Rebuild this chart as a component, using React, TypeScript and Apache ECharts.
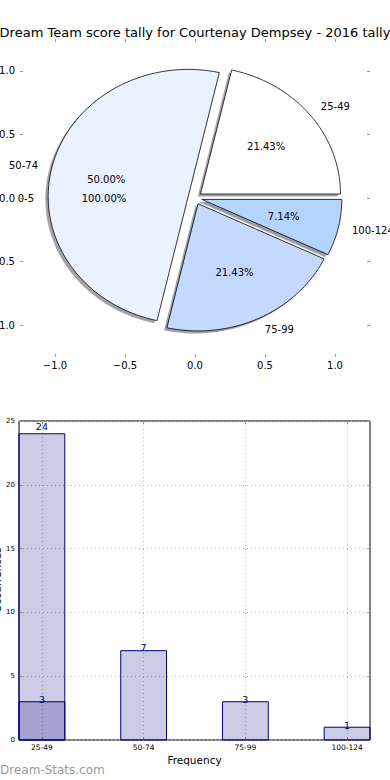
import React, { useEffect, useRef } from "react";
import * as echarts from "echarts";

const chartTitle = "Dream Team score tally for Courtenay Dempsey - 2016 tally";

const pieLabels = ["25-49", "50-74", "75-99", "100-124"];
const pieValues = [3, 7, 3, 1];
const pieColors = ["#ffffff", "#ebf2ff", "#c5d8ff", "#b3d4ff"];
const secondPieLabels = ["0-5"];
const secondPieValues = [1];
const pieTickValues = [-1, -0.5, 0, 0.5, 1];

const barCategories = ["25-49", "50-74", "75-99", "100-124"];
const barValues = [24, 7, 3, 1];
const overlayValues = [3];
const barXAxisName = "Frequency";
const barYAxisName = "Occurrences";
const watermark = "Dream-Stats.com";

const FONT = "'DejaVu Sans', 'Noto Sans', sans-serif";
const EXPLODE = 0.05;
const BAR_W = 0.45;
const NAVY = "#000080";

function wedges(values: number[]) {
  const total = values.reduce((a, b) => a + b, 0);
  let acc = 0;
  return values.map((v, i) => {
    const s = (acc / total) * 360;
    acc += v;
    const e = (acc / total) * 360;
    return [s, e, i];
  });
}

function shade(hex: string) {
  const n = parseInt(hex.slice(1), 16);
  const r = Math.round(((n >> 16) & 255) * 0.3);
  const g = Math.round(((n >> 8) & 255) * 0.3);
  const b = Math.round((n & 255) * 0.3);
  return `rgb(${r},${g},${b})`;
}

function pieRender(labels: string[], colors: string[], drawWedge: boolean) {
  return (params: any, api: any) => {
    const s = api.value(0) as number;
    const e = api.value(1) as number;
    const i = api.value(2) as number;
    const rad = Math.PI / 180;
    const mid = ((s + e) / 2) * rad;
    const c = Math.cos(mid);
    const sn = Math.sin(mid);
    const cx = EXPLODE * c;
    const cy = EXPLODE * sn;
    const n = Math.max(2, Math.ceil(e - s));
    const ring: number[][] = [[cx, cy]];
    for (let k = 0; k <= n; k++) {
      const t = (s + ((e - s) * k) / n) * rad;
      ring.push([cx + Math.cos(t), cy + Math.sin(t)]);
    }
    const children: any[] = [];
    if (drawWedge) {
      children.push({
        type: "polygon",
        z2: 1,
        silent: true,
        shape: { points: ring.map((p) => api.coord([p[0] - 0.02, p[1] - 0.02])) },
        style: { fill: shade(colors[i]), opacity: 0.5 },
      });
      children.push({
        type: "polygon",
        z2: 10,
        shape: { points: ring.map((p) => api.coord(p)) },
        style: { fill: colors[i], stroke: "#000", lineWidth: 0.8, lineJoin: "miter" },
      });
    }
    const lp = api.coord([cx + 1.1 * c, cy + 1.1 * sn]);
    const al = c > 0 ? "left" : "right";
    children.push({
      type: "text",
      z2: 20,
      x: lp[0],
      y: lp[1],
      style: {
        text: labels[i],
        fill: "#000",
        fontSize: 10,
        fontFamily: FONT,
        align: al,
        textAlign: al,
        verticalAlign: "middle",
        textVerticalAlign: "middle",
      },
    });
    const pp = api.coord([cx + 0.6 * c, cy + 0.6 * sn]);
    children.push({
      type: "text",
      z2: 20,
      x: pp[0],
      y: pp[1],
      style: {
        text: (((e - s) / 360) * 100).toFixed(2) + "%",
        fill: "#000",
        fontSize: 10,
        fontFamily: FONT,
        align: "center",
        textAlign: "center",
        verticalAlign: "middle",
        textVerticalAlign: "middle",
      },
    });
    return { type: "group", children };
  };
}

const barRender = (params: any, api: any) => {
  const x = api.value(0) as number;
  const v = api.value(1) as number;
  const p0 = api.coord([x - BAR_W / 2, v]);
  const p1 = api.coord([x + BAR_W / 2, 0]);
  const lp = api.coord([x, v * 1.02]);
  return {
    type: "group",
    children: [
      {
        type: "rect",
        z2: 5,
        shape: { x: p0[0], y: p0[1], width: p1[0] - p0[0], height: p1[1] - p0[1] },
        style: { fill: "rgba(0,0,128,0.2)", stroke: NAVY, lineWidth: 1 },
      },
      {
        type: "text",
        z2: 20,
        x: lp[0],
        y: lp[1] - 1,
        style: {
          text: String(v),
          fill: NAVY,
          fontSize: 9.5,
          fontFamily: FONT,
          align: "center",
          textAlign: "center",
          verticalAlign: "middle",
          textVerticalAlign: "middle",
        },
      },
    ],
  };
};

const minus = (v: number) => v.toFixed(1).replace("-", "\u2212");

export default function App() {
  const ref = useRef<HTMLDivElement>(null);
  useEffect(() => {
    if (!ref.current) return;
    const chart = echarts.init(ref.current, undefined, { renderer: "svg" });
    const pieTick = { show: true, inside: true, length: 3, lineStyle: { color: "#999", width: 1 } };
    const barTick = { show: true, inside: true, length: 3, lineStyle: { color: "#999", width: 1 } };
    const noLine = { show: false, onZero: false };
    const dotted = { show: true, lineStyle: { color: "#b4b4b4", type: [1, 3] as any, width: 1 } };
    const barX = barCategories.map((_, i) => i);
    chart.setOption({
      animation: false,
      backgroundColor: "#fff",
      title: {
        text: chartTitle,
        left: "center",
        top: 21,
        textStyle: { fontSize: 13, fontWeight: "normal", color: "#000", fontFamily: FONT },
      },
      grid: [
        { left: 20, top: 39, width: 350, height: 318, show: false, outerBoundsMode: "none", containLabel: false },
        { left: 19, top: 421, width: 351, height: 319, show: true, borderColor: "#000", borderWidth: 1, backgroundColor: "transparent", outerBoundsMode: "none", containLabel: false },
      ],
      xAxis: [
        {
          gridIndex: 0, type: "value", position: "bottom", min: -1.25, max: 1.25,
          axisLine: noLine,
          axisTick: { ...pieTick, customValues: pieTickValues },
          axisLabel: { customValues: pieTickValues, formatter: (v: number) => minus(v), fontSize: 10, color: "#000", margin: 3, fontFamily: FONT },
          splitLine: { show: false },
        },
        {
          gridIndex: 0, type: "value", position: "top", min: -1.25, max: 1.25,
          axisLine: noLine,
          axisTick: { ...pieTick, customValues: pieTickValues },
          axisLabel: { show: false },
          splitLine: { show: false },
        },
        {
          gridIndex: 1, type: "value", position: "bottom", min: -BAR_W / 2, max: barCategories.length - 1 + BAR_W / 2,
          axisLine: noLine,
          axisTick: { ...barTick, customValues: barX },
          axisLabel: { customValues: barX, formatter: (v: number) => barCategories[Math.round(v)] ?? "", fontSize: 7.5, color: "#000", margin: 3, fontFamily: FONT },
          splitLine: dotted,
          name: barXAxisName,
          nameLocation: "middle",
          nameGap: 14,
          nameTextStyle: { fontSize: 10.5, color: "#000", fontFamily: FONT },
        },
        {
          gridIndex: 1, type: "value", position: "top", min: -BAR_W / 2, max: barCategories.length - 1 + BAR_W / 2,
          axisLine: noLine,
          axisTick: { ...barTick, customValues: barX },
          axisLabel: { show: false },
          splitLine: { show: false },
        },
      ],
      yAxis: [
        {
          gridIndex: 0, type: "value", position: "left", min: -1.25, max: 1.25,
          axisLine: noLine,
          axisTick: { ...pieTick, customValues: pieTickValues },
          axisLabel: { customValues: pieTickValues, formatter: (v: number) => minus(v), fontSize: 10, color: "#000", margin: 5, fontFamily: FONT },
          splitLine: { show: false },
        },
        {
          gridIndex: 0, type: "value", position: "right", min: -1.25, max: 1.25,
          axisLine: noLine,
          axisTick: { ...pieTick, customValues: pieTickValues },
          axisLabel: { show: false },
          splitLine: { show: false },
        },
        {
          gridIndex: 1, type: "value", position: "left", min: 0, max: 25, interval: 5,
          axisLine: noLine,
          axisTick: barTick,
          axisLabel: { fontSize: 7, color: "#000", margin: 4, fontFamily: FONT },
          splitLine: dotted,
        },
        {
          gridIndex: 1, type: "value", position: "right", min: 0, max: 25, interval: 5,
          axisLine: noLine,
          axisTick: barTick,
          axisLabel: { show: false },
          splitLine: { show: false },
        },
      ],
      graphic: [
        {
          type: "text",
          x: 0,
          y: 770,
          style: { text: watermark, fill: "#999", fontSize: 12, fontFamily: FONT, align: "left", textAlign: "left", verticalAlign: "middle", textVerticalAlign: "middle" },
        },
        {
          type: "text",
          x: -3.5,
          y: 580,
          rotation: Math.PI / 2,
          style: { text: barYAxisName, fill: "#000", fontSize: 10.5, fontFamily: FONT, align: "center", textAlign: "center", verticalAlign: "middle", textVerticalAlign: "middle" },
        },
      ],
      series: [
        {
          type: "custom",
          xAxisIndex: 0,
          yAxisIndex: 0,
          data: wedges(pieValues),
          renderItem: pieRender(pieLabels, pieColors, true),
        },
        {
          type: "custom",
          xAxisIndex: 0,
          yAxisIndex: 0,
          data: wedges(secondPieValues),
          renderItem: pieRender(secondPieLabels, pieColors, false),
        },
        {
          type: "custom",
          xAxisIndex: 2,
          yAxisIndex: 2,
          data: barValues.map((v, i) => [i, v]),
          renderItem: barRender,
        },
        {
          type: "custom",
          xAxisIndex: 2,
          yAxisIndex: 2,
          data: overlayValues.map((v, i) => [i, v]),
          renderItem: barRender,
        },
      ],
    });
    return () => chart.dispose();
  }, []);
  return (
    <div
      ref={ref}
      style={{ position: "fixed", left: 0, top: 0, width: 390, height: 780, background: "#fff" }}
    />
  );
}
